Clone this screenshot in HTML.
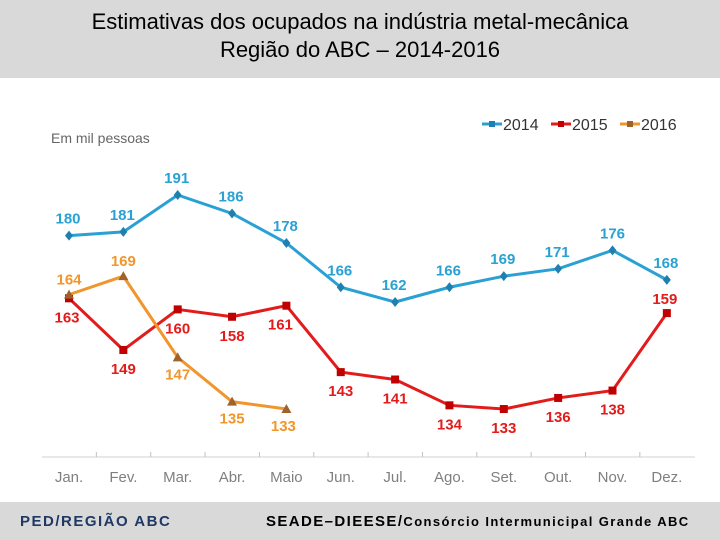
<!DOCTYPE html>
<html><head><meta charset="utf-8"><style>
body{margin:0;width:720px;height:540px;overflow:hidden;background:#fff;font-family:"Liberation Sans",sans-serif}
#hdr{position:absolute;left:0;top:0;width:720px;height:78px;background:#d9d9d9;text-align:center;font-size:22px;line-height:28px;color:#000;padding-top:8px;box-sizing:border-box}
#ftr{position:absolute;left:0;top:502px;width:720px;height:38px;background:#d9d9d9}
svg{position:absolute;left:0;top:0}
</style></head><body>
<div id="hdr">Estimativas dos ocupados na indústria metal-mecânica<br>Região do ABC – 2014-2016</div>
<div id="ftr">
<span style="position:absolute;left:20px;top:11px;font-size:15px;font-weight:bold;color:#1f3864;letter-spacing:1.5px">PED/REGIÃO ABC</span>
<span style="position:absolute;left:266px;top:11px;font-size:15px;font-weight:bold;color:#000;letter-spacing:1.4px">SEADE–DIEESE/<span style="font-size:13px">Consórcio Intermunicipal Grande ABC</span></span>
</div>
<svg id="c" width="720" height="540"></svg>
<script>
const categories=["Jan.","Fev.","Mar.","Abr.","Maio","Jun.","Jul.","Ago.","Set.","Out.","Nov.","Dez."];
const s2014=[180,181,191,186,178,166,162,166,169,171,176,168];
const s2015=[163,149,160,158,161,143,141,134,133,136,138,159];
const s2016=[164,169,147,135,133];
const NS="http://www.w3.org/2000/svg",svg=document.getElementById('c');
const x=i=>69+i*54.35, y=v=>195+(191-v)*3.69;
function mk(t,a,p){const e=document.createElementNS(NS,t);for(const k in a)e.setAttribute(k,a[k]);(p||svg).appendChild(e);return e;}
const ax=mk('line',{x1:42,x2:695,y1:457,y2:457,stroke:'#d0d0d0','stroke-width':1});


for(let i=1;i<categories.length;i++){const tx=x(i)-27;const t=mk('line',{x1:tx,x2:tx,y1:452,y2:457,stroke:'#c0c0c0'});

}
categories.forEach((c,i)=>{const t=mk('text',{x:x(i),y:482,'text-anchor':'middle','font-size':15,fill:'#7f7f7f'});t.textContent=c;

});
const u=mk('text',{x:51,y:143,'font-size':14,fill:'#666'});u.textContent='Em mil pessoas';


function series(data,col,shape,name,lab){
 const g=mk('g',{});
 
 
 mk('polyline',{points:data.map((v,i)=>x(i)+','+y(v)).join(' '),fill:'none',stroke:col,'stroke-width':3},g);
 data.forEach((v,i)=>{const cx=x(i),cy=y(v);let m;
  if(shape==='d')m=mk('polygon',{points:`${cx},${cy-5} ${cx+4},${cy} ${cx},${cy+5} ${cx-4},${cy}`,fill:'#1f7fb0'},g);
  else if(shape==='s')m=mk('rect',{x:cx-4,y:cy-4,width:8,height:8,fill:'#c00000'},g);
  else m=mk('polygon',{points:`${cx},${cy-5} ${cx+5},${cy+4} ${cx-5},${cy+4}`,fill:'#a0622a'},g);
  
  
  const o=lab(i);const t=mk('text',{x:cx+o[0],y:cy+o[1],'text-anchor':'middle','font-size':15,'font-weight':'bold',fill:col},g);t.textContent=v;
  
  });
}
series(s2014,'#2aa1d3','d','2014',i=>[i==10?0:-1,-12]);
series(s2015,'#e31b1b','s','2015',i=>i==0?[-2,24]:i==11?[-2,-9]:[i==4?-6:0,24]);
series(s2016,'#f0962d','t','2016',i=>i<2?[0,-10]:[i==4?-3:0,22]);
const lg=mk('g',{});
[['2014','#2aa1d3','#1f7fb0',482],['2015','#e31b1b','#c00000',551],['2016','#f0962d','#a0622a',620]].forEach(([n,c,m,lx])=>{
 mk('line',{x1:lx,x2:lx+20,y1:124,y2:124,stroke:c,'stroke-width':3},lg);
 mk('rect',{x:lx+7,y:121,width:6,height:6,fill:m},lg);
 const t=mk('text',{x:lx+21,y:130,'font-size':16,fill:'#333'},lg);t.textContent=n;
 
 });
</script>
</body></html>
